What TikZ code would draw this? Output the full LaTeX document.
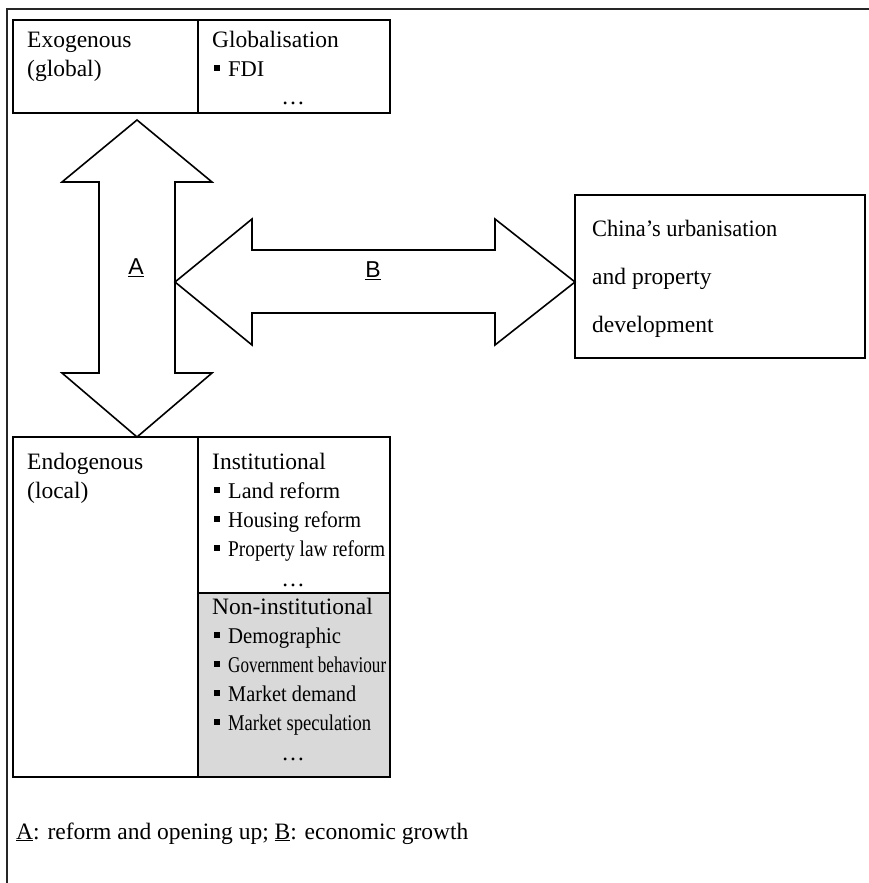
\documentclass[tikz,border=0pt]{standalone}
\usepackage{graphicx}
\usepackage{fontspec}
\setmainfont{Liberation Serif}
\newfontfamily\arialfont{Liberation Sans}
\newcommand\bul{\rule[5pt]{6pt}{6pt}\hspace{8pt}}
\newcommand\fitw[2]{\resizebox{#1}{\height}{#2}}
\tikzset{
  box/.style={draw, line width=2pt},
  frameline/.style={line width=2pt, draw=black!85},
  blockarrow/.style={draw, line width=1.6pt, line join=miter, fill=white},
  txt/.style={anchor=base west, inner sep=0pt, font=\fontsize{23.5}{28}\selectfont},
  item/.style={anchor=base west, inner sep=0pt, font=\fontsize{22.5}{28}\selectfont},
  dots/.style={anchor=base, inner sep=0pt, font=\fontsize{23.5}{28}\selectfont},
  lab/.style={anchor=center, inner sep=0pt, font=\arialfont\fontsize{23}{27}\selectfont},
}
\begin{document}
\begin{tikzpicture}[x=1pt,y=-1pt]
\useasboundingbox (0,0) rectangle (869,883);
% page frame
\draw[frameline] (7,883) -- (7,9) -- (869,9);

% boxes
\fill[black!15] (198,593) rectangle (390,777);
\draw[box] (13,20) rectangle (390,113);
\draw[box] (198,20) -- (198,113);
\draw[box] (13,437) rectangle (390,777);
\draw[box] (198,437) -- (198,777);
\draw[box] (198,593) -- (390,593);
\draw[box] (575,195) rectangle (865,358);

% named coordinates
\coordinate (topbox) at (137,120);
\coordinate (botbox) at (137,437);
\coordinate (rbox) at (575,282);

% vertical double block arrow
\draw[blockarrow] (topbox) -- (212,182) -- (175,182) -- (175,373) -- (212,373)
  -- (botbox) -- (62,373) -- (99,373) -- (99,182) -- (62,182) -- cycle;
\coordinate (vshaft) at (175,282);
% horizontal double block arrow
\draw[blockarrow] (vshaft) -- (252,219) -- (252,250) -- (495,250) -- (495,219)
  -- (rbox) -- (495,345) -- (495,313) -- (252,313) -- (252,345) -- cycle;

\node[lab] (A) at (136,268) {\underline{A}};
\node[lab] (B) at (373,271) {\underline{B}};

% top box text
\node[txt] (exo1) at (27,48) {Exogenous};
\node[txt] (exo2) at (27,76) {(global)};
\node[txt] (glob) at (212,48) {Globalisation};
\node[item] (fdi) at (214,76) {\bul FDI};
\node[dots] (d1) at (293,104) {…};

% right box text
\node[txt] (c1) at (592,236) {\fitw{185pt}{China’s urbanisation}};
\node[txt] (c2) at (592,284) {and property};
\node[txt] (c3) at (592,332) {development};

% bottom box text
\node[txt] (endo1) at (27,469) {Endogenous};
\node[txt] (endo2) at (27,498) {(local)};
\node[txt] (inst) at (212,469) {Institutional};
\node[item] (i1) at (214,498) {\bul\fitw{112pt}{Land reform}};
\node[item] (i2) at (214,527) {\bul\fitw{133pt}{Housing reform}};
\node[item] (i3) at (214,556) {\bul\fitw{157pt}{Property law reform}};
\node[dots] (d2) at (293,586) {…};
\node[txt] (ninst) at (212,614) {Non-institutional};
\node[item] (n1) at (214,643) {\bul\fitw{113pt}{Demographic}};
\node[item] (n2) at (214,672) {\bul\fitw{158pt}{Government behaviour}};
\node[item] (n3) at (214,701) {\bul\fitw{128pt}{Market demand}};
\node[item] (n4) at (214,730) {\bul\fitw{143pt}{Market speculation}};
\node[dots] (d3) at (293,760) {…};

% caption
\node[txt] (cap) at (16,839) {\underline{A}: reform and opening up; \underline{B}: economic growth};
\end{tikzpicture}
\end{document}
